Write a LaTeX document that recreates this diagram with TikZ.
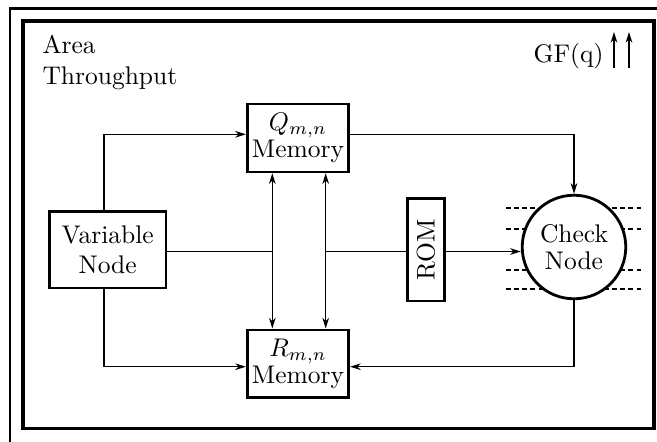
\documentclass[tikz,border=0pt]{standalone}
\usetikzlibrary{arrows.meta}
\begin{document}
\begin{tikzpicture}[x=0.392pt,y=-0.392pt,
  blk/.style={draw, line width=1pt, fill=white, inner sep=0pt, align=center},
  wire/.style={line width=0.55pt},
  tip/.tip={Stealth[length=4.2pt,width=2.6pt,inset=1.3pt]},
  arr/.style={wire, -tip},
  darr/.style={wire, tip-tip},
  hatch/.style={line width=0.5pt, dash pattern=on 1.8pt off 1.4pt}]
\useasboundingbox (0,0) rectangle (657,441);

% frames
\begin{scope}
  \clip (0,0) rectangle (657,441);
  \draw[line width=1pt] (10,8.7) rectangle (720,500);
\end{scope}
\draw[line width=1.2pt] (23,21) rectangle (654,428.5);

% captions
\node[anchor=north west, inner sep=0pt, align=left] (cap) at (42,35) {Area\\Throughput};
\node[anchor=base west, inner sep=0pt] (gf) at (533,62.7) {GF(q)};
\draw[arr, line width=0.6pt] (614,68) -- (614,32);
\draw[arr, line width=0.6pt] (629,68) -- (629,32);

% dashed lines behind the check node
\foreach \yy in {208,229,270,289}
  \draw[hatch] (506,\yy) -- (644,\yy);

% blocks
\node[blk, minimum width=39.8pt, minimum height=26.6pt] (Q) at (298,138) {$Q_{m,n}$\\[-1.5pt]Memory};
\node[blk, minimum width=39.8pt, minimum height=26.6pt] (R) at (298,363.7) {$R_{m,n}$\\[-1.5pt]Memory};
\node[blk, minimum width=45.7pt, minimum height=30pt] (var) at (107.7,249.7) {Variable\\Node};
\node[blk, minimum width=14.7pt, minimum height=40.2pt] (rom) at (426,249.5) {\rotatebox{90}{ROM}};
\node[blk, circle, line width=1.1pt, minimum size=40.6pt] (check) at (574,247) {Check\\[-1.5pt]Node};

% bus points
\coordinate (topbus) at (104,134.3);
\coordinate (botbus) at (104,366.7);
\coordinate (busL) at (272.3,251.5);
\coordinate (busR) at (325.7,251.5);

% connectors
\draw[arr] (var.north -| topbus) -- (topbus) -- (topbus -| Q.west);
\draw[arr] (var.south -| botbus) -- (botbus) -- (botbus -| R.west);
\draw[arr] (Q.east |- topbus) -| (check.north);
\draw[arr] (check.south) |- (R.east |- botbus);
\draw[darr] (Q.south -| busL) -- (R.north -| busL);
\draw[darr] (Q.south -| busR) -- (R.north -| busR);
\draw[wire] (var.east |- busL) -- (busL);
\draw[wire] (busR) -- (rom.west |- busR);
\draw[arr] (rom.east |- busR) -- (check.west |- busR);
\end{tikzpicture}
\end{document}
